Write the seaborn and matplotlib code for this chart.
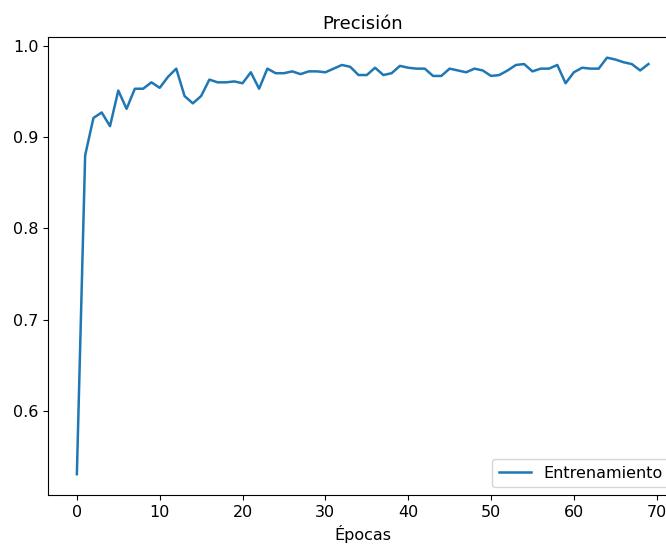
import matplotlib
matplotlib.use("Agg")
import matplotlib.pyplot as plt
import seaborn as sns
import pandas as pd

# Precisión de entrenamiento por época
epocas = list(range(70))
precision = [
    0.531, 0.880, 0.921, 0.927, 0.912, 0.951, 0.931, 0.953, 0.953, 0.960,
    0.954, 0.966, 0.975, 0.945, 0.937, 0.945, 0.963, 0.960, 0.960, 0.961,
    0.959, 0.971, 0.953, 0.975, 0.970, 0.970, 0.972, 0.969, 0.972, 0.972,
    0.971, 0.975, 0.979, 0.977, 0.968, 0.968, 0.976, 0.968, 0.970, 0.978,
    0.976, 0.975, 0.975, 0.967, 0.967, 0.975, 0.973, 0.971, 0.975, 0.973,
    0.967, 0.968, 0.973, 0.979, 0.980, 0.972, 0.975, 0.975, 0.979, 0.959,
    0.971, 0.976, 0.975, 0.975, 0.987, 0.985, 0.982, 0.980, 0.973, 0.980,
]

datos = pd.DataFrame({"Épocas": epocas, "Precisión": precision})

plt.rcParams["font.size"] = 11.5

fig = plt.figure(figsize=(6.66, 5.5), dpi=100)
ax = fig.add_axes([0.0725, 0.1, 0.944, 0.833])

sns.lineplot(data=datos, x="Épocas", y="Precisión", ax=ax,
             color="#1f77b4", linewidth=1.8, label="Entrenamiento")

ax.set_title("Precisión", fontsize=13)
ax.set_xlabel("Épocas")
ax.set_ylabel("")
ax.legend(loc="lower right")

fig.savefig("out.png", dpi=100)
